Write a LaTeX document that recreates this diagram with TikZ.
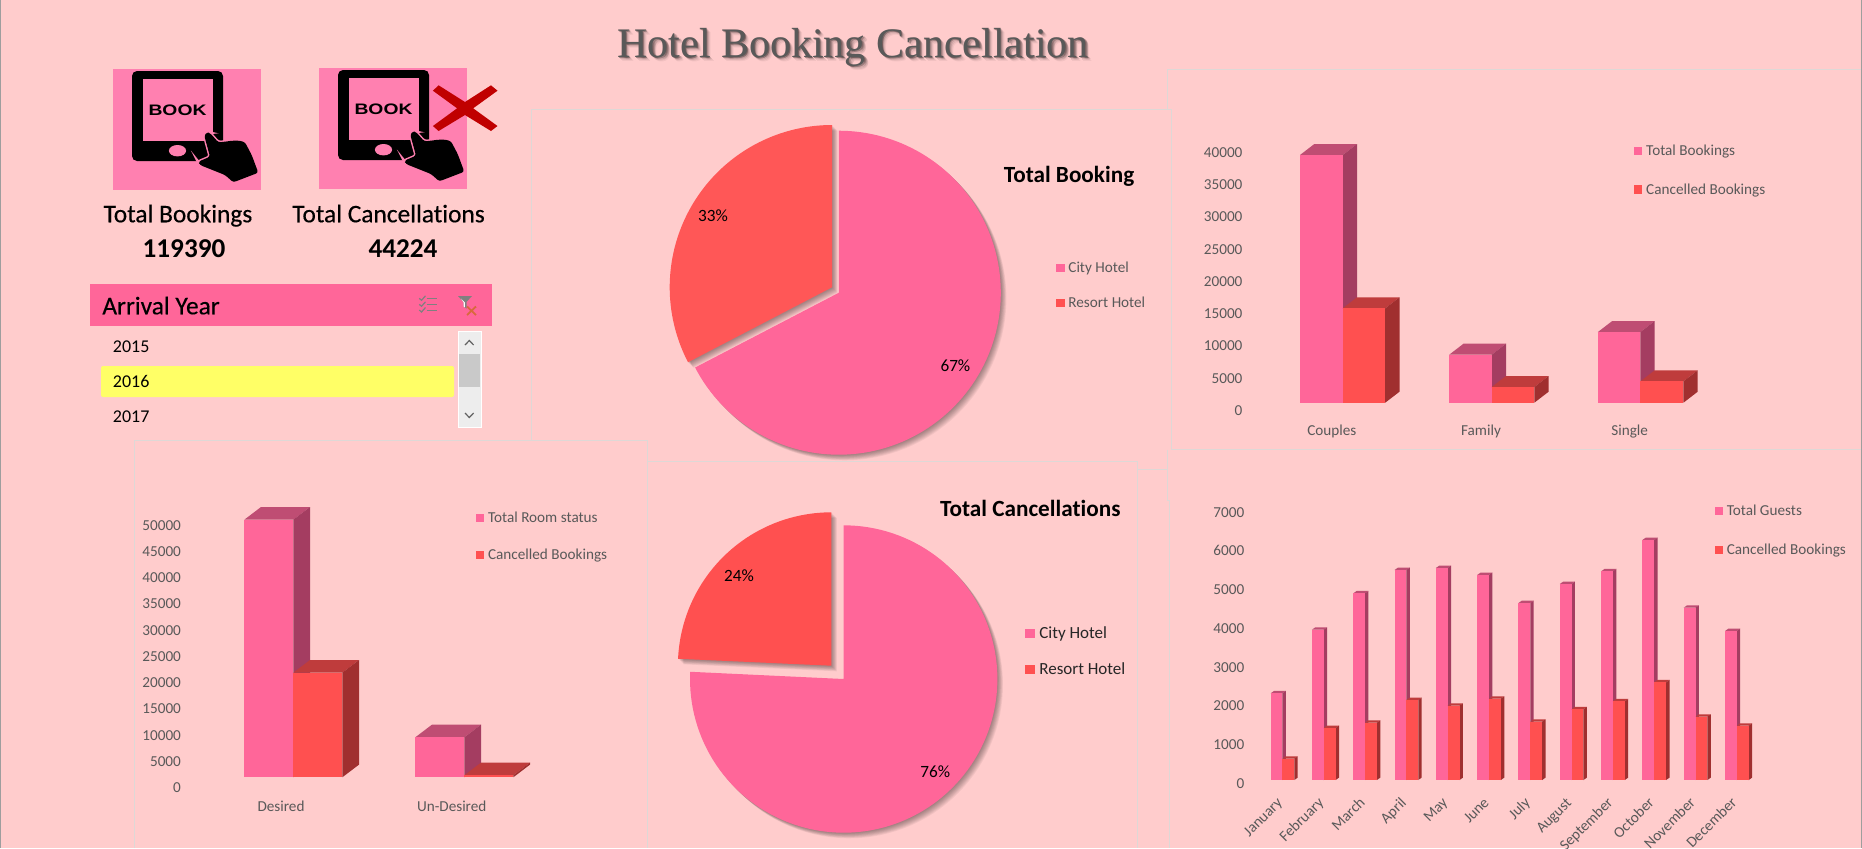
\documentclass[tikz,border=0pt]{standalone}
\usepackage{fontspec}
\setmainfont[Ligatures=NoCommon]{Carlito}
\newfontfamily\semibold[Ligatures=NoCommon,FakeBold=0.35]{Carlito}
\newfontfamily\titlefont{Liberation Serif}
\newfontfamily\bookfont{Liberation Sans}
\definecolor{bg}{HTML}{FFCCCC}
\definecolor{pinkf}{HTML}{FF6699}
\definecolor{pinkt}{HTML}{BF4D73}
\definecolor{pinks}{HTML}{A43D61}
\definecolor{redf}{HTML}{FF5050}
\definecolor{redtop}{HTML}{FF5757}
\definecolor{redt}{HTML}{BF3C3C}
\definecolor{reds}{HTML}{A02F2F}
\definecolor{iconbg}{HTML}{FF80B0}
\definecolor{txt}{HTML}{595959}
\definecolor{panel}{HTML}{DED8D6}
\definecolor{xred}{HTML}{C00000}
\definecolor{slyellow}{HTML}{FFFF66}
\definecolor{xorange}{HTML}{D8693C}
\newcommand{\tdbar}[9]{%
  \fill[#8] (#1,#3) -- ++(#5,-#6) -- (#2+#5,#3-#6) -- (#2,#3) -- cycle;
  \fill[#9] (#2,#3) -- (#2+#5,#3-#6) -- (#2+#5,#4-#6) -- (#2,#4) -- cycle;
  \fill[#7] (#1,#3) rectangle (#2,#4);
}
\newcommand{\sliceshadow}[5]{% cx cy r a0 a1
  \foreach \k in {1,...,8}{
    \fill[black,opacity=.05]
      plot[domain=#4:#5,samples=90] ({#1+\k*.7+#3*cos(\x)},{#2+\k*.7-#3*sin(\x)}) -- ({#1+\k*.7},{#2+\k*.7}) -- cycle;
  }
}
\newcommand{\slicefill}[6]{% cx cy r a0 a1 colour
  \fill[#6] plot[domain=#4:#5,samples=120] ({#1+#3*cos(\x)},{#2-#3*sin(\x)}) -- (#1,#2) -- cycle;
}
\newcommand{\bookicon}[2]{%
\begin{scope}[shift={(#1,#2)}]
  \fill[iconbg] (113,69) rectangle (261,190);
  \fill[black,rounded corners=2.5pt] (132,71) rectangle (223,161);
  \fill[iconbg] (143,79.3) rectangle (212.5,141);
  \fill[iconbg] (177.5,150.7) ellipse [x radius=8.6,y radius=5.7];
  \fill[black,draw=iconbg,line width=1.5pt,rounded corners=1.2pt]
    (204.3,135.7) -- (206.7,132.3) -- (210,133) -- (218.3,142.3) -- (225,141.7) -- (231.7,140.7)
    -- (240,140.7) -- (245,142.3) -- (251.7,155) -- (258.3,172.7) -- (233.3,182.3) -- (225,175)
    -- (200,165) -- (198.3,161.7) -- (210,156.7) -- cycle;
  \fill[black,rounded corners=1.2pt]
    (204.3,135.7) -- (206.7,132.3) -- (210,133) -- (218.3,142.3) -- (225,141.7) -- (231.7,140.7)
    -- (240,140.7) -- (245,142.3) -- (251.7,155) -- (258.3,172.7) -- (233.3,182.3) -- (225,175)
    -- (200,165) -- (198.3,161.7) -- (210,156.7) -- cycle;
\end{scope}}
\tikzset{
  lab/.style={inner sep=0pt,text=txt,anchor=mid,font=\fontsize{7.6}{9}\selectfont},
  axisl/.style={lab,anchor=mid east},
  legt/.style={lab,anchor=mid west},
  pct/.style={inner sep=0pt,text=black,font=\fontsize{8.6}{10}\selectfont},
  kpi/.style={inner sep=0pt,anchor=mid,text=black,font=\fontsize{12.7}{14}\selectfont\semibold},
  kpib/.style={inner sep=0pt,text=black,font=\fontsize{13.6}{15}\selectfont\bfseries},
  ptitle/.style={inner sep=0pt,anchor=mid,text=black,font=\fontsize{11.6}{13}\selectfont\bfseries},
  pleg/.style={inner sep=0pt,anchor=mid west,text=black!85,font=\fontsize{8.5}{11}\selectfont},
  year/.style={inner sep=0pt,anchor=mid west,text=black,font=\fontsize{9}{11}\selectfont},
  ttl/.style={inner sep=0pt,anchor=mid,font=\fontsize{21}{26}\selectfont\titlefont},
  paneline/.style={draw=panel,line width=.5pt},
  booklab/.style={inner sep=0pt,font=\fontsize{7.6}{9}\selectfont\bookfont\bfseries,xscale=1.27}
}
\begin{document}
\begin{tikzpicture}[x=.5pt,y=-.5pt]
\useasboundingbox (0,0) rectangle (1862,848);
\fill[bg] (0,0) rectangle (1862,848);
\fill[black!38] (0,0) rectangle (1,848);
\fill[black!38] (1861,0) rectangle (1862,848);
% panel outlines
\draw[paneline] (531.5,440.5) -- (531.5,109.5) -- (1171.5,109.5) -- (1171.5,449.5) -- (1861,449.5);
\draw[paneline] (1167.5,109.5) -- (1167.5,69.5) -- (1861,69.5);
\draw[paneline] (134.5,848) -- (134.5,440.5) -- (647.5,440.5) -- (647.5,848);
\draw[paneline] (647.5,461.5) -- (1137.5,461.5) -- (1137.5,848);
\draw[paneline] (1137.5,469.5) -- (1167.5,469.5);
\draw[paneline] (1167.5,449.5) -- (1167.5,500.5) -- (1169.5,500.5) -- (1169.5,848);
% title
\foreach \o/\a in {0/.14,1/.2,2/.2,3/.14,4/.08,5/.05}{
  \node[ttl,text=black,opacity=\a] (titleshadow\o) at ({853+\o*.8},{52.5+\o*.8}) {Hotel Booking Cancellation};
}
\node[ttl,text=txt] (title) at (853,52.5) {Hotel Booking Cancellation};
% icons
\bookicon{0}{0}
\bookicon{206}{-1}
\node[booklab] (book1) at (177.5,110) {BOOK};
\node[booklab] (book2) at (383.5,109) {BOOK};
\fill[xred] (438.6,85.3) -- (465,102) -- (491,85.3) -- (497.5,90.7) -- (473.2,108.3) -- (497.5,126)
  -- (491,131) -- (465,115) -- (438.6,131) -- (432.9,126) -- (457.1,108.3) -- (432.9,90.7) -- cycle;
% KPI
\node[kpi] (k1) at (178,217.5) {Total Bookings};
\node[kpi] (k2) at (388.6,217.5) {Total Cancellations};
\node[kpib] (v1) at (184,249) {119390};
\node[kpib] (v2) at (403,249) {44224};
% slicer
\fill[pinkf] (90,284) rectangle (492,325.7);
\node[inner sep=0pt,anchor=mid west,text=black,font=\fontsize{12.7}{14}\selectfont\semibold] (sl) at (102,309.5) {Arrival Year};
\foreach \yy in {298.3,304.3,310}{
  \draw[black!50,line width=.5pt] (426.7,\yy) -- (436.7,\yy);
  \draw[black!50,line width=.6pt] (419.3,\yy) -- (421.5,\yy+2) -- (425.5,\yy-2.5);
}
\fill[black!50] (458,296) -- (472,296) -- (466.5,302) -- (466.5,308.5) -- (463.5,306.5) -- (463.5,302) -- cycle;
\fill[white] (461,298.5) -- (464.8,302.4) -- (464.8,307.4) -- (463.6,306.5) -- (463.6,302.4) -- cycle;
\draw[draw=xorange,line width=.9pt] (467,306.5) -- (476,315) (476,306.5) -- (467,315);
\fill[slyellow,rounded corners=1pt] (101,366) rectangle (454,397);
\node[year] (y15) at (112.5,347.5) {2015};
\node[year] (y16) at (112.5,382.5) {2016};
\node[year] (y17) at (112.5,417.5) {2017};
\fill[black!7,draw=white,line width=.4pt] (458,331) rectangle (481,427);
\fill[black!21] (459,354) rectangle (480,387);
\draw[black!62,line width=.6pt] (465,345) -- (469.3,340.5) -- (473.6,345);
\draw[black!62,line width=.6pt] (465,413) -- (469.3,417.5) -- (473.6,413);
% pie 1
\sliceshadow{838.8}{292.7}{162}{-152.5}{90}
\sliceshadow{832}{287.3}{162.3}{90}{207.5}
\slicefill{838.8}{292.7}{162}{-152.5}{90}{pinkf}
\slicefill{832}{287.3}{162.3}{90}{207.5}{redtop}
\node[pct] (p33) at (713,215.7) {33\%};
\node[pct] (p67) at (955.4,365.7) {67\%};
\node[ptitle] (t1) at (1069,177.5) {Total Booking};
\fill[pinkf] (1056,264) rectangle (1065,272);
\fill[redf] (1056,298.7) rectangle (1065,306.7);
\node[legt] (l1a) at (1068,267.7) {City Hotel};
\node[legt] (l1b) at (1068,302.7) {Resort Hotel};
% pie 2
\sliceshadow{843.7}{679}{153.7}{-182.7}{90}
\sliceshadow{831.3}{665.7}{153.4}{90}{177.4}
\slicefill{843.7}{679}{153.7}{-182.7}{90}{pinkf}
\slicefill{831.3}{665.7}{153.4}{90}{177.4}{redf}
\node[pct] (p24) at (739,575.7) {24\%};
\node[pct] (p76) at (935.3,771.7) {76\%};
\node[ptitle] (t2) at (1030.3,512) {Total Cancellations};
\fill[pinkf] (1025,628.7) rectangle (1035,638.3);
\fill[redf] (1025,664.5) rectangle (1035,674);
\node[pleg] (l2a) at (1039,633.5) {City Hotel};
\node[pleg] (l2b) at (1039,669.5) {Resort Hotel};
% chart top right
\foreach \v [count=\i from 0] in {0,5000,10000,15000,20000,25000,30000,35000,40000}{
  \node[axisl] (a\i) at (1242.8,{410.7-\i*32.25}) {\v};
}
\tdbar{1300}{1342.7}{155}{402.7}{14.3}{11}{pinkf}{pinkt}{pinks}
\tdbar{1342.7}{1385.2}{308.3}{402.7}{14.3}{11}{redf}{redt}{reds}
\tdbar{1449.2}{1491.7}{354.7}{402.7}{14.3}{11}{pinkf}{pinkt}{pinks}
\tdbar{1491.7}{1534.3}{387}{402.7}{14.3}{11}{redf}{redt}{reds}
\tdbar{1597.9}{1640.4}{332}{402.7}{14.3}{11}{pinkf}{pinkt}{pinks}
\tdbar{1640.4}{1683.4}{381.3}{402.7}{14.3}{11}{redf}{redt}{reds}
\node[lab] (c1) at (1331.9,430.5) {Couples};
\node[lab] (c2) at (1481,430.5) {Family};
\node[lab] (c3) at (1629.7,430.5) {Single};
\fill[pinkf] (1634,146.7) rectangle (1642.2,155);
\fill[redf] (1634,185.3) rectangle (1642.2,193.6);
\node[legt] (l3a) at (1645.8,150.7) {Total Bookings};
\node[legt] (l3b) at (1645.8,189.3) {Cancelled Bookings};
% chart bottom left
\foreach \v [count=\i from 0] in {0,5000,10000,15000,20000,25000,30000,35000,40000,45000,50000}{
  \node[axisl] (b\i) at (181.3,{787.7-\i*26.24}) {\v};
}
\tdbar{244.3}{293.3}{519.7}{777.3}{16.7}{12.7}{pinkf}{pinkt}{pinks}
\tdbar{293.3}{342.3}{672.7}{777.3}{16.7}{12.7}{redf}{redt}{reds}
\tdbar{415.3}{464.3}{737.3}{777.3}{16.7}{12.7}{pinkf}{pinkt}{pinks}
\tdbar{464.3}{513.3}{775.3}{777.3}{16.7}{12.7}{redf}{redt}{reds}
\node[lab] (d1) at (281,807) {Desired};
\node[lab] (d2) at (451.7,807) {Un-Desired};
\fill[pinkf] (476,514) rectangle (484,522);
\fill[redf] (476,551) rectangle (484,559);
\node[legt] (l4a) at (487.7,517.7) {Total Room status};
\node[legt] (l4b) at (487.7,554.7) {Cancelled Bookings};
% chart bottom right
\foreach \v [count=\i from 0] in {0,1000,2000,3000,4000,5000,6000,7000}{
  \node[axisl] (e\i) at (1244.6,{783.7-\i*38.76}) {\v};
}
\foreach \m/\p/\r [count=\i from 0] in {January/730/926,February/539/834,March/430/818,April/360/750,May/354/767,June/375/746,July/459/815,August/402/778,September/364/754,October/270/697,November/473/800,December/543/827}{
  \pgfmathsetmacro{\xa}{1270.6+\i*41.31}
  \pgfmathsetmacro{\xb}{\xa+11.8}
  \pgfmathsetmacro{\xc}{\xb+11.9}
  \pgfmathsetmacro{\ya}{450+\p/3}
  \pgfmathsetmacro{\yb}{450+\r/3}
  \tdbar{\xa}{\xb}{\ya}{780}{3.4}{2.4}{pinkf}{pinkt}{pinks}
  \tdbar{\xb}{\xc}{\yb}{780}{3.4}{2.4}{redf}{redt}{reds}
  \node[lab,rotate=45,anchor=mid east] (m\i) at ({1280+\i*41.31},800) {\m};
}
\fill[pinkf] (1715.2,507) rectangle (1723.2,515);
\fill[redf] (1715.2,546) rectangle (1723.2,554);
\node[legt] (l5a) at (1726.4,510.7) {Total Guests};
\node[legt] (l5b) at (1726.4,549.7) {Cancelled Bookings};
\end{tikzpicture}
\end{document}
